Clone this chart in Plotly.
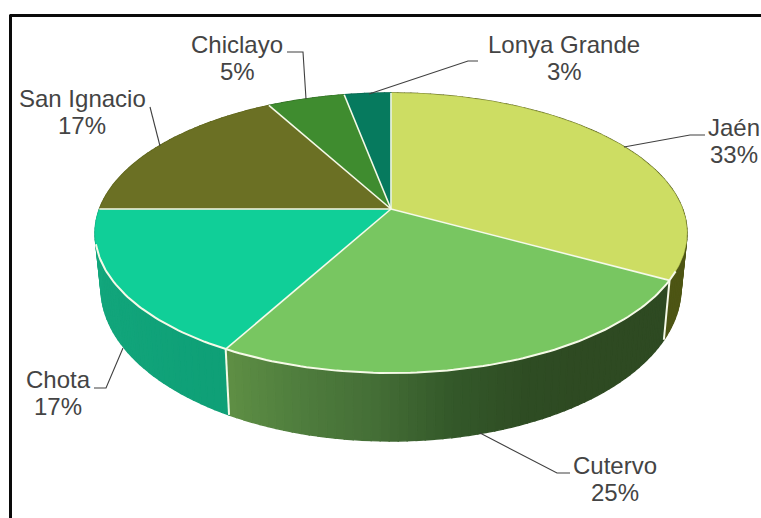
import numpy as np
import plotly.graph_objects as go

# Shares of production by province, clockwise from twelve o'clock
categories = ["Jaén", "Cutervo", "Chota", "San Ignacio", "Chiclayo", "Lonya Grande"]
shares = [33, 25, 17, 17, 5, 3]

top_colors = ["#CDDD63", "#78C661", "#10CF98", "#6B7024", "#3F8C2F", "#067A5E"]
# Wall shading for each slice, listed in clockwise order
wall_ramps = [
    ["#5A6118", "#4D5514"],
    ["#2E4A22", "#2E4A22", "#2E4A22", "#2F4D24", "#34592A", "#456F37", "#507E3E", "#5F8F45"],
    ["#0FA077", "#12A57B", "#14A87E"],
    ["#5A6118", "#5A6118"],
    ["#2F6B24", "#2F6B24"],
    ["#056049", "#056049"],
]

label_pos = [(734, 127), (615, 465), (58, 379), (82, 98), (237, 44), (564, 44)]
leaders = [
    ([705, 690, 624], [135, 135, 147]),
    ([570, 557, 480], [473, 473, 433]),
    ([94, 106, 123], [388, 388, 348]),
    ([150, 160], [107, 146]),
    ([287, 303, 306], [52, 52, 99]),
    ([478, 468, 369], [61, 61, 94]),
]

# Perspective of the tilted disc, in drawing units
CX, CY = 391.0, 209.0
A, B, K = 291.6, 135.9, 0.1714
TOP_YC, TOP_RX, TOP_RY = 233.0, 296.0, 140.0
BOT_YC, BOT_RX, BOT_RY = 288.0, 290.0, 153.0
INK = "#444444"
RIM = "#F6FAE8"


def top_point(t):
    ang = 2 * np.pi * np.asarray(t, dtype=float)
    u, v = np.sin(ang), -np.cos(ang)
    w = 1 - K * v
    return CX + A * u / w, CY + B * v / w


def bottom_point(t):
    x, y = top_point(t)
    cp, sp = (x - CX) / TOP_RX, (y - TOP_YC) / TOP_RY
    n = np.hypot(cp, sp)
    return CX + BOT_RX * cp / n, BOT_YC + BOT_RY * sp / n


def mix(stops, f):
    rgb = np.array([[int(c[i:i + 2], 16) for i in (1, 3, 5)] for c in stops], dtype=float)
    pos = np.linspace(0, 1, len(stops))
    vals = [np.interp(f, pos, rgb[:, j]) for j in range(3)]
    return "rgb(%d,%d,%d)" % tuple(vals)


edges = np.concatenate([[0], np.cumsum(shares)]) / sum(shares)
fig = go.Figure()


def poly(xs, ys, color, width=0.6):
    fig.add_trace(go.Scatter(x=xs, y=ys, mode="lines", fill="toself", fillcolor=color,
                             line=dict(color=color, width=width),
                             hoverinfo="skip", showlegend=False))


def stroke(xs, ys, color, width):
    fig.add_trace(go.Scatter(x=xs, y=ys, mode="lines", line=dict(color=color, width=width),
                             hoverinfo="skip", showlegend=False))


# Outer wall, banded so the shading runs along the rim
for i in range(len(shares)):
    t0, t1 = edges[i], edges[i + 1]
    n = max(4, int(shares[i] * 2.4))
    steps = np.linspace(t0, t1, n + 1)
    for j in range(n):
        sub = np.linspace(steps[j], steps[j + 1], 4)
        xa, ya = top_point(sub)
        xb, yb = bottom_point(sub[::-1])
        poly(list(xa) + list(xb) + [xa[0]], list(ya) + list(yb) + [ya[0]],
             mix(wall_ramps[i], (j + 0.5) / n), width=1.4)

# Cover the wall where it would show behind the disc
for i in range(len(shares)):
    arc = np.linspace(edges[i], edges[i + 1], max(12, shares[i] * 4))
    xa, ya = top_point(arc)
    poly([CX] + list(xa) + [CX], [CY] + list(ya) + [CY], top_colors[i])

# Light rim along the front of the disc
front = np.linspace(0.32, 0.71, 140)
fx, fy = top_point(front)
stroke(list(fx), list(fy), RIM, 2)

# Slice separators on the face and down the wall
for i, e in enumerate(edges[:-1]):
    ex, ey = top_point(e)
    stroke([CX, float(ex)], [CY, float(ey)], RIM, 1.6)
    if 0.25 < e < 0.75:
        bx, by = bottom_point(e)
        stroke([float(ex), float(bx)], [float(ey), float(by)], RIM, 2)

# Leader lines
for xs, ys in leaders:
    stroke(xs, ys, "#404040", 1.1)

annotations = []
for name, share, (lx, ly) in zip(categories, shares, label_pos):
    for text, yy in ((name, ly), (f"{share}%", ly + 27)):
        annotations.append(dict(x=lx, y=yy, text=text, showarrow=False, xanchor="center",
                                yanchor="middle", xref="x", yref="y",
                                font=dict(family="Liberation Sans", size=24, color=INK)))

frame = [
    dict(type="line", xref="x", yref="y", x0=9.5, x1=761, y0=15.5, y1=15.5,
         line=dict(color="#0A0A0A", width=3)),
    dict(type="line", xref="x", yref="y", x0=10.5, x1=10.5, y0=15, y1=518,
         line=dict(color="#0A0A0A", width=3)),
]

fig.update_layout(
    width=761, height=518, margin=dict(l=0, r=0, t=0, b=0),
    paper_bgcolor="white", plot_bgcolor="white", showlegend=False,
    xaxis=dict(range=[0, 761], visible=False, fixedrange=True),
    yaxis=dict(range=[518, 0], visible=False, fixedrange=True),
    annotations=annotations, shapes=frame,
)
fig.write_html("out.html", config=dict(displayModeBar=False))
